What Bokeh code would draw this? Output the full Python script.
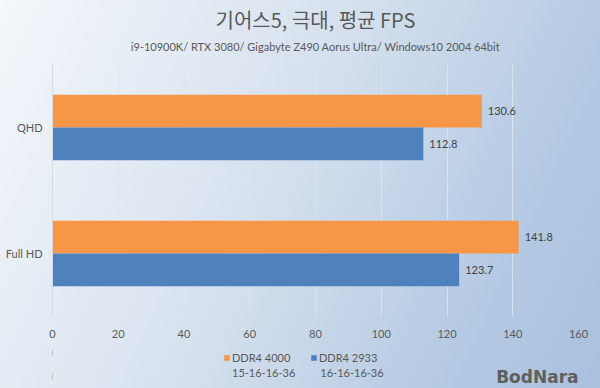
from bokeh.plotting import figure
from bokeh.layouts import column
from bokeh.models import (ColumnDataSource, FactorRange, Range1d, Legend, LegendItem,
                          Title, Label, InlineStyleSheet, FixedTicker)
from bokeh.transform import dodge
from bokeh.core.properties import value
from bokeh.embed import file_html
from bokeh.resources import INLINE

# ---- data ----
categories = ["Full HD", "QHD"]
ddr4_4000 = [141.8, 130.6]
ddr4_2933 = [123.7, 112.8]
series_names = ["DDR4 4000", "DDR4 2933"]
series_timings = ["15-16-16-36", "16-16-16-36"]
x_ticks = [0, 20, 40, 60, 80, 100, 120, 140, 160]
title_text = "기어스5, 극대, 평균 FPS"
subtitle_text = "i9-10900K/ RTX 3080/ Gigabyte Z490 Aorus Ultra/ Windows10 2004 64bit"
watermark_text = "BodNara"

ORANGE = "#F79646"
BLUE = "#4F81BD"
TEXT = "#595959"
LATIN = "Lato"
KR = "Noto Sans CJK KR"

src = ColumnDataSource(dict(
    cat=categories,
    v4000=ddr4_4000,
    v2933=ddr4_2933,
    l4000=[f"{v:.1f}" for v in ddr4_4000],
    l2933=[f"{v:.1f}" for v in ddr4_2933],
))

# ---------------- main chart ----------------
p = figure(width=600, height=340,
           y_range=FactorRange(factors=categories, range_padding=0),
           x_range=Range1d(0, 160),
           output_backend="svg", toolbar_location=None,
           min_border_left=52, min_border_right=22,
           min_border_top=64, min_border_bottom=20)
p.background_fill_alpha = 0
p.border_fill_alpha = 0
p.outline_line_color = None

r1 = p.hbar(y=dodge("cat", 0.13, range=p.y_range), right="v4000", left=0, height=0.26,
            source=src, fill_color=ORANGE, line_color=None)
r2 = p.hbar(y=dodge("cat", -0.13, range=p.y_range), right="v2933", left=0, height=0.26,
            source=src, fill_color=BLUE, line_color=None)

p.text(x="v4000", y=dodge("cat", 0.13, range=p.y_range), text="l4000", source=src,
       x_offset=6, text_baseline="middle", text_align="left",
       text_font=value(LATIN), text_font_size="11px", text_color="#404040")
p.text(x="v2933", y=dodge("cat", -0.13, range=p.y_range), text="l2933", source=src,
       x_offset=6, text_baseline="middle", text_align="left",
       text_font=value(LATIN), text_font_size="11px", text_color="#404040")

p.xaxis.ticker = FixedTicker(ticks=x_ticks)
p.xaxis.axis_line_color = None
p.xaxis.major_tick_line_color = None
p.xaxis.minor_tick_line_color = None
p.xaxis.major_label_standoff = 7
p.xaxis.major_label_text_font = LATIN
p.xaxis.major_label_text_font_size = "11px"
p.xaxis.major_label_text_color = TEXT

p.yaxis.axis_line_color = "#d4dbe5"
p.yaxis.major_tick_line_color = None
p.yaxis.minor_tick_line_color = None
p.yaxis.major_label_standoff = 4
p.yaxis.major_label_text_font = LATIN
p.yaxis.major_label_text_font_size = "11px"
p.yaxis.major_label_text_color = TEXT

p.xgrid.grid_line_color = "#dde4ee"
p.xgrid.grid_line_alpha = 0.9
p.ygrid.grid_line_color = None

# small spacer between subtitle and plot area
p.add_layout(Title(text=" ", text_font_size="1px", standoff=4), "above")
p.add_layout(Title(text=subtitle_text, align="center", text_font=LATIN,
                   text_font_size="11px", text_font_style="normal", text_color=TEXT,
                   standoff=10), "above")
p.add_layout(Title(text=title_text, align="center", text_font=KR,
                   text_font_size="20px", text_font_style="normal", text_color=TEXT,
                   standoff=-3), "above")

# ---------------- legend strip ----------------
lg = figure(width=600, height=48, x_range=Range1d(1000, 1001), y_range=FactorRange(factors=categories),
            x_axis_type=None, y_axis_type=None, output_backend="svg", toolbar_location=None,
            min_border_left=0, min_border_right=0, min_border_top=0, min_border_bottom=0)
lg.background_fill_alpha = 0
lg.border_fill_alpha = 0
lg.outline_line_color = None
lg.xgrid.grid_line_color = None
lg.ygrid.grid_line_color = None

k1 = lg.hbar(y="cat", right="v4000", left=0, height=0.26, source=src,
             fill_color=ORANGE, line_color=None)
k2 = lg.hbar(y="cat", right="v2933", left=0, height=0.26, source=src,
             fill_color=BLUE, line_color=None)
t1 = lg.hbar(y="cat", right="v4000", left=0, height=0.26, source=src,
             fill_alpha=0, line_alpha=0)
t2 = lg.hbar(y="cat", right="v2933", left=0, height=0.26, source=src,
             fill_alpha=0, line_alpha=0)

common = dict(orientation="horizontal",
              glyph_width=7, glyph_height=7, label_standoff=2, spacing=16,
              label_width=62, label_height=13, padding=0, margin=0,
              border_line_color=None, background_fill_alpha=0,
              label_text_font=LATIN, label_text_font_size="11px",
              label_text_color=TEXT)
legend1 = Legend(items=[LegendItem(label=series_names[0], renderers=[k1]),
                        LegendItem(label=series_names[1], renderers=[k2])],
                 location=(171, 24), **common)
legend2 = Legend(items=[LegendItem(label=series_timings[0], renderers=[t1]),
                        LegendItem(label=series_timings[1], renderers=[t2])],
                 location=(171, 9), **common)
lg.add_layout(legend1, "center")
lg.add_layout(legend2, "center")

lg.add_layout(Label(x=526, y=2, x_units="screen", y_units="screen", text=watermark_text,
                    text_font="DejaVu Sans", text_font_style="bold",
                    text_font_size="17px", text_color="#5f5f5f",
                    text_align="right", text_baseline="bottom"))

layout = column(p, lg, spacing=0)
layout.stylesheets = [InlineStyleSheet(css=":host { background: linear-gradient(115deg, #f4f7fb 0%, #d6e1ee 45%, #b4c9e3 80%, #a9c1df 100%); }")]

open("out.html", "w").write(file_html(layout, INLINE))
